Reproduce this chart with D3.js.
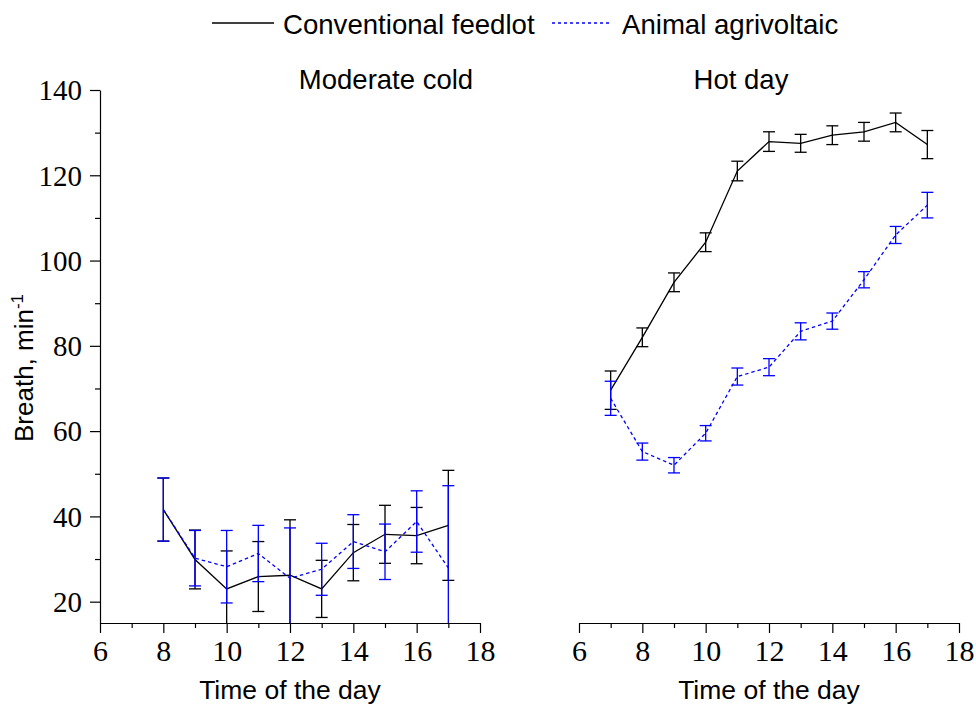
<!DOCTYPE html>
<html>
<head>
<meta charset="utf-8">
<script src="https://cdn.jsdelivr.net/npm/d3@7"></script>
<style>
  html, body { margin: 0; padding: 0; background: #fff; }
  svg { display: block; }
</style>
</head>
<body>
<svg id="chart" width="976" height="704"></svg>
<script>
// ---- data ----
const hoursCold = [8, 9, 10, 11, 12, 13, 14, 15, 16, 17];
const coldConvMean = [41.6, 29.9, 23.0, 25.9, 26.2, 23.0, 31.5, 35.8, 35.5, 37.9];
const coldConvErr  = [7.4, 6.9, 8.9, 8.2, 13.0, 6.7, 6.6, 6.8, 6.6, 12.9];
const coldAgriMean = [41.6, 30.2, 28.2, 31.3, 25.5, 27.6, 34.1, 31.7, 38.8, 27.9];
const coldAgriErr  = [7.4, 6.5, 8.5, 6.6, 11.8, 6.1, 6.3, 6.5, 7.2, 19.3];

const hoursHot = [7, 8, 9, 10, 11, 12, 13, 14, 15, 16, 17];
const hotConvMean = [69.6, 82.0, 94.9, 104.3, 121.0, 127.9, 127.5, 129.4, 130.2, 132.4, 127.2];
const hotConvErr  = [4.5, 2.2, 2.2, 2.2, 2.3, 2.3, 2.1, 2.2, 2.2, 2.2, 3.3];
const hotAgriMean = [67.7, 55.2, 52.0, 59.5, 72.8, 75.0, 83.4, 85.8, 95.5, 106.0, 113.0];
const hotAgriErr  = [4.0, 2.0, 1.8, 1.8, 2.0, 2.0, 2.0, 1.9, 1.9, 2.0, 3.0];

const seriesNames = ["Conventional feedlot", "Animal agrivoltaic"];
const panelTitles = ["Moderate cold", "Hot day"];
const xMajorTicks = [6, 8, 10, 12, 14, 16, 18];
const xMinorTicks = [7, 9, 11, 13, 15, 17];
const yMajorTicks = [20, 40, 60, 80, 100, 120, 140];
const yMinorTicks = [30, 50, 70, 90, 110, 130];
const xLabel = "Time of the day";

// ---- layout ----
const svg = d3.select("#chart");
const SANS = "'Liberation Sans', Arial, sans-serif";
const SERIF = "'Liberation Serif', 'Times New Roman', serif";
const yTop = 90, yBottom = 623;
const y = d3.scaleLinear().domain([15, 140]).range([yBottom, yTop]);

const panels = [
  { x0: 100, x1: 480, hours: hoursCold, conv: coldConvMean, convErr: coldConvErr,
    agri: coldAgriMean, agriErr: coldAgriErr, title: panelTitles[0], titleX: 386, yAxis: true },
  { x0: 579, x1: 959, hours: hoursHot, conv: hotConvMean, convErr: hotConvErr,
    agri: hotAgriMean, agriErr: hotAgriErr, title: panelTitles[1], titleX: 741, yAxis: false }
];

const styles = [
  { color: "#000000", dash: null },
  { color: "#0000ff", dash: "3.5,3" }
];

svg.append("defs").append("clipPath").attr("id", "clipPlot")
  .append("rect").attr("x", 0).attr("y", yTop - 20).attr("width", 976).attr("height", yBottom - yTop + 20);

panels.forEach((p, pi) => {
  const x = d3.scaleLinear().domain([6, 18]).range([p.x0, p.x1]);

  // x axis major + minor
  const gxMinor = svg.append("g").attr("transform", `translate(0,${yBottom})`)
    .call(d3.axisBottom(x).tickValues(xMinorTicks).tickSize(5).tickSizeOuter(0).tickFormat(""));
  gxMinor.select(".domain").remove();
  const gx = svg.append("g").attr("transform", `translate(0,${yBottom})`)
    .call(d3.axisBottom(x).tickValues(xMajorTicks).tickSize(10).tickSizeOuter(0).tickPadding(6).tickFormat(d3.format("d")));
  [gx, gxMinor].forEach(g => {
    g.selectAll("line").attr("stroke", "#000").attr("stroke-width", 1.2);
    g.select(".domain").attr("stroke", "#000").attr("stroke-width", 1.2);
  });
  gx.selectAll("text").attr("font-family", SERIF).attr("font-size", 30).attr("fill", "#000")
    .attr("y", 17).attr("dy", "0.71em");

  if (p.yAxis) {
    const gyMinor = svg.append("g").attr("transform", `translate(${p.x0},0)`)
      .call(d3.axisLeft(y).tickValues(yMinorTicks).tickSize(5).tickSizeOuter(0).tickFormat(""));
    gyMinor.select(".domain").remove();
    const gy = svg.append("g").attr("transform", `translate(${p.x0},0)`)
      .call(d3.axisLeft(y).tickValues(yMajorTicks).tickSize(10).tickSizeOuter(0).tickPadding(8).tickFormat(d3.format("d")));
    [gy, gyMinor].forEach(g => {
      g.selectAll("line").attr("stroke", "#000").attr("stroke-width", 1.2);
      g.select(".domain").attr("stroke", "#000").attr("stroke-width", 1.2);
    });
    gy.selectAll("text").attr("font-family", SERIF).attr("font-size", 29).attr("fill", "#000")
      .attr("dy", "0.34em");
  }

  // titles
  svg.append("text").attr("x", p.titleX).attr("y", 89).attr("text-anchor", "middle")
    .attr("font-family", SANS).attr("font-size", 27.5).attr("fill", "#000").text(p.title);
  svg.append("text").attr("x", (p.x0 + p.x1) / 2).attr("y", 699).attr("text-anchor", "middle")
    .attr("font-family", SANS).attr("font-size", 26.5).attr("fill", "#000").text(xLabel);

  const plot = svg.append("g").attr("clip-path", "url(#clipPlot)");
  const sets = [
    { mean: p.conv, err: p.convErr, st: styles[0] },
    { mean: p.agri, err: p.agriErr, st: styles[1] }
  ];
  sets.forEach(s => {
    const data = p.hours.map((h, i) => ({ h, m: s.mean[i], e: s.err[i] }));
    const line = d3.line().x(d => x(d.h)).y(d => y(d.m));
    plot.append("path").datum(data).attr("d", line).attr("fill", "none")
      .attr("stroke", s.st.color).attr("stroke-width", 1.3)
      .attr("stroke-dasharray", s.st.dash);
    const eb = plot.append("g").selectAll("g").data(data).join("g");
    eb.append("line").attr("x1", d => x(d.h)).attr("x2", d => x(d.h))
      .attr("y1", d => y(d.m - d.e)).attr("y2", d => y(d.m + d.e))
      .attr("stroke", s.st.color).attr("stroke-width", 1.3);
    [-1, 1].forEach(sg => {
      eb.append("line").attr("x1", d => x(d.h) - 6).attr("x2", d => x(d.h) + 6)
        .attr("y1", d => y(d.m + sg * d.e)).attr("y2", d => y(d.m + sg * d.e))
        .attr("stroke", s.st.color).attr("stroke-width", 1.3);
    });
  });
});

// y label
const yl = svg.append("text")
  .attr("transform", "translate(33,442) rotate(-90)")
  .attr("font-family", SANS).attr("font-size", 26).attr("fill", "#000");
yl.append("tspan").text("Breath, min");
yl.append("tspan").attr("font-size", 17).attr("dy", -10).text("-1");

// legend
const legend = svg.append("g");
const legItems = [
  { x1: 212, x2: 274, tx: 283, st: styles[0], name: seriesNames[0] },
  { x1: 552, x2: 611, tx: 622, st: styles[1], name: seriesNames[1] }
];
legItems.forEach(l => {
  legend.append("line").attr("x1", l.x1).attr("x2", l.x2).attr("y1", 23).attr("y2", 23)
    .attr("stroke", l.st.color).attr("stroke-width", 1.3)
    .attr("stroke-dasharray", l.st.dash ? "3,3" : null);
  legend.append("text").attr("x", l.tx).attr("y", 34).attr("font-family", SANS)
    .attr("font-size", 27.6).attr("fill", "#000").text(l.name);
});
</script>
</body>
</html>
